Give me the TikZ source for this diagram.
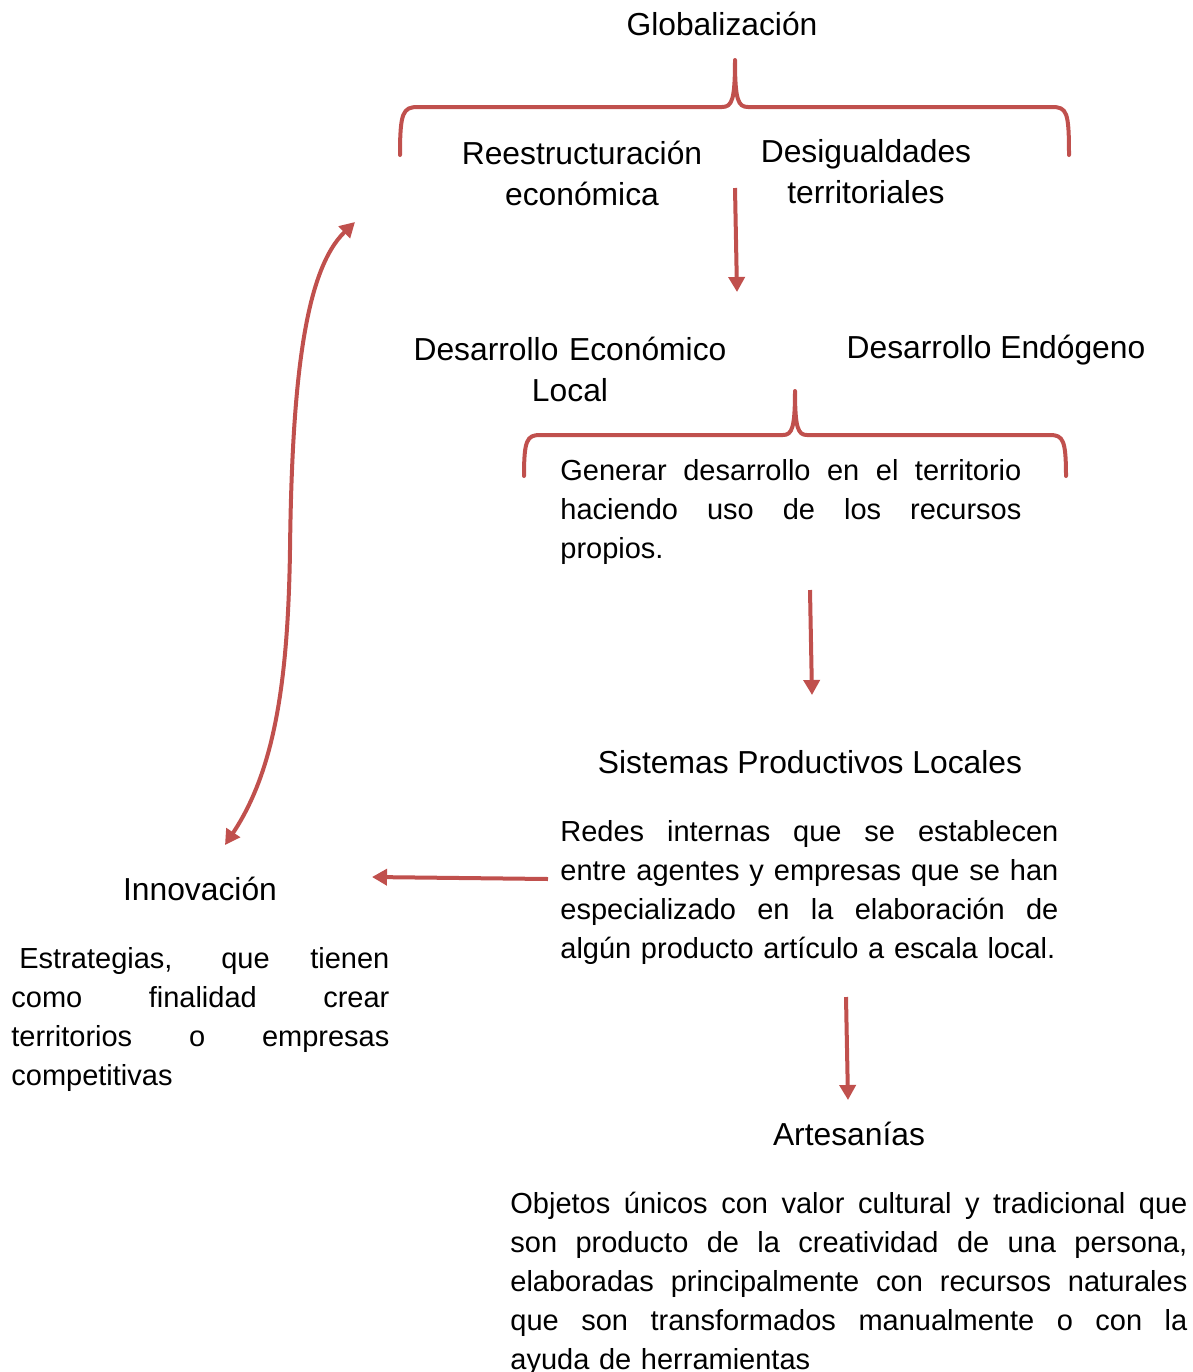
\documentclass[tikz,border=0pt]{standalone}
\usepackage{fontspec}
\setmainfont{Liberation Sans}
\usetikzlibrary{arrows.meta}

\definecolor{rojo}{RGB}{192,80,77}
\newcommand{\jline}[2]{\leavevmode\hbox to #1{\spaceskip=0.278em plus 1fil\relax #2}}

\begin{document}
\begin{tikzpicture}[x=0.5pt,y=-0.5pt,
	titulo/.style={font=\fontsize{15.9}{20.5}\selectfont, inner sep=0pt, anchor=base},
	texto/.style={font=\fontsize{14.5}{19.6}\selectfont, inner sep=0pt, anchor=base west, align=left},
	llave/.style={rojo, line width=2pt, line join=round, line cap=round},
	flecha/.style={rojo, line width=2pt, -{Triangle[width=8pt,length=7.5pt]}},
	dobleflecha/.style={rojo, line width=2pt, {Triangle[width=8pt,length=7.5pt]}-{Triangle[width=8pt,length=7.5pt]}}]
	\useasboundingbox (0,0) rectangle (1193,1372);
	
	% Globalizacion y su llave
	\node[titulo] (glob) at (722,35) {Globalización};
	\draw[llave] (400,155) .. controls (400,112) and (403,107) .. (418,107) -- (722,107)
		.. controls (732,107) and (735,100) .. (735,60)
		.. controls (735,100) and (738,107) .. (748,107) -- (1052,107)
		.. controls (1067,107) and (1069,112) .. (1069,155);
	\node[titulo, text width=130pt, align=center] (reest) at (582,164) {Reestructuración\\económica};
	\node[titulo, text width=130pt, align=center] (desig) at (866,162) {Desigualdades\\territoriales};
	
	% Desarrollo local
	\coordinate (a1) at (735,188);
	\coordinate (b1) at (737,292);
	\draw[flecha] (a1) -- (b1);
	\node[titulo, text width=170pt, align=center] (del) at (570,360) {Desarrollo Económico\\Local};
	\node[titulo] (dendo) at (996,358) {Desarrollo Endógeno};
	\draw[llave] (524,476) .. controls (524,440) and (527,435) .. (540,435) -- (783,435)
		.. controls (792,435) and (795,428) .. (795,391)
		.. controls (795,428) and (798,435) .. (807,435) -- (1050,435)
		.. controls (1063,435) and (1066,440) .. (1066,476);
	\node[texto, text width=230.5pt] (generar) at (560,480) {%
		\jline{230.5pt}{Generar desarrollo en el territorio}\\
		\jline{230.5pt}{haciendo uso de los recursos}\\
		propios.};
	
	% Sistemas productivos locales
	\coordinate (a2) at (810,590);
	\coordinate (b2) at (812,695);
	\draw[flecha] (a2) -- (b2);
	\node[titulo] (spl) at (810,773) {Sistemas Productivos Locales};
	\node[texto, text width=249pt] (redes) at (560,841) {%
		\jline{249pt}{Redes internas que se establecen}\\
		\jline{249pt}{entre agentes y empresas que se han}\\
		\jline{249pt}{especializado en la elaboración de}\\
		\mbox{algún producto artículo a escala local.}};
	
	% Innovacion
	\coordinate (a3) at (548,879);
	\coordinate (b3) at (372,877);
	\draw[flecha] (a3) -- (b3);
	\node[titulo] (innov) at (200,900) {Innovación};
	\node[texto, text width=189pt] (estrat) at (11,968) {%
		\jline{189pt}{\kern4pt Estrategias, que tienen}\\
		\jline{189pt}{como finalidad crear}\\
		\jline{189pt}{territorios o empresas}\\
		competitivas};
	\coordinate (c1) at (225,845);
	\coordinate (c2) at (355,222);
	\draw[dobleflecha] (c1) .. controls (275,770) and (288,680) .. (290,550)
		.. controls (292,380) and (305,270) .. (c2);
	
	% Artesanias
	\coordinate (a4) at (846,997);
	\coordinate (b4) at (848,1100);
	\draw[flecha] (a4) -- (b4);
	\node[titulo] (artes) at (849,1145) {Artesanías};
	\node[texto, text width=338.5pt] (objetos) at (510,1213) {%
		\jline{338.5pt}{Objetos únicos con valor cultural y tradicional que}\\
		\jline{338.5pt}{son producto de la creatividad de una persona,}\\
		\jline{338.5pt}{elaboradas principalmente con recursos naturales}\\
		\jline{338.5pt}{que son transformados manualmente o con la}\\
		ayuda de herramientas};
\end{tikzpicture}
\end{document}
